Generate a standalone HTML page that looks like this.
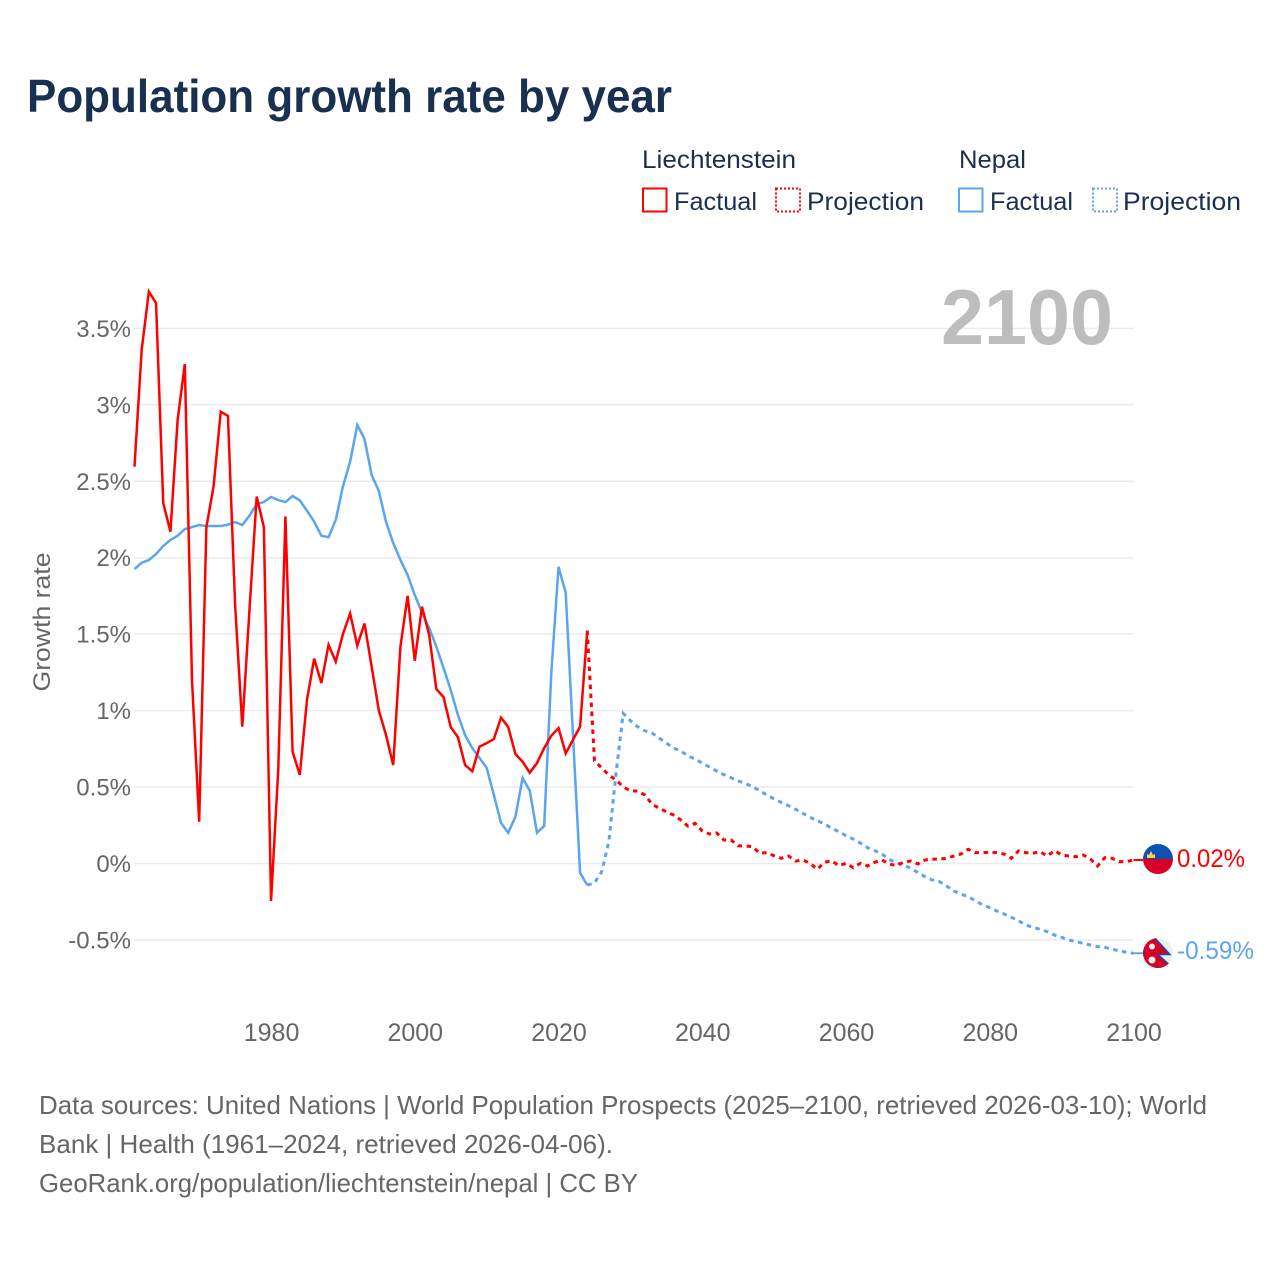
<!DOCTYPE html>
<html lang="en">
<head>
<meta charset="utf-8">
<title>Population growth rate by year</title>
<style>
  html,body{margin:0;padding:0;background:#fff;}
  svg{display:block;}
  text{font-family:"Liberation Sans",sans-serif;}
</style>
</head>
<body>
<svg id="chart" xmlns="http://www.w3.org/2000/svg" width="1280" height="1280" viewBox="0 0 1280 1280">
  <rect x="0" y="0" width="1280" height="1280" fill="#ffffff"/>
  <text x="27" y="112" font-size="46" font-weight="700" fill="#1a3050" textLength="645" lengthAdjust="spacingAndGlyphs">Population growth rate by year</text>

  <g font-size="25" fill="#1a3050">
    <text x="642" y="168" textLength="154" lengthAdjust="spacingAndGlyphs">Liechtenstein</text>
    <text x="959" y="168" textLength="67" lengthAdjust="spacingAndGlyphs">Nepal</text>
    <rect x="643" y="188.500" width="23.500" height="23" fill="none" stroke="#ff0000" stroke-width="2"/>
    <text x="674" y="210" textLength="83" lengthAdjust="spacingAndGlyphs">Factual</text>
    <rect x="776" y="188.500" width="24" height="23" fill="none" stroke="#ff0000" stroke-width="2" stroke-dasharray="2 2"/>
    <text x="807" y="210" textLength="117" lengthAdjust="spacingAndGlyphs">Projection</text>
    <rect x="959" y="188.500" width="23.500" height="23" fill="none" stroke="#5aa5ee" stroke-width="2"/>
    <text x="990" y="210" textLength="83" lengthAdjust="spacingAndGlyphs">Factual</text>
    <rect x="1093" y="188.500" width="24" height="23" fill="none" stroke="#5aa5ee" stroke-width="2" stroke-dasharray="2 2"/>
    <text x="1123" y="210" textLength="118" lengthAdjust="spacingAndGlyphs">Projection</text>
  </g>

  <g id="grid"></g>
  <g id="yticks"></g>
  <g id="xticks"></g>

  <text transform="translate(50,622) rotate(-90)" text-anchor="middle" font-size="24" fill="#666666" textLength="139" lengthAdjust="spacingAndGlyphs">Growth rate</text>
  <text x="941" y="344" font-size="78" font-weight="700" fill="#bdbdbd" textLength="172" lengthAdjust="spacingAndGlyphs">2100</text>

  <g id="series"></g>

  <g>
    <clipPath id="clip-li"><circle id="li-clip-circle" cx="1158" cy="859" r="15"/></clipPath>
    <g id="flag-li" clip-path="url(#clip-li)">
      <rect x="1143" y="844" width="30" height="15" fill="#0b52b4"/>
      <rect x="1143" y="859" width="30" height="15" fill="#d80027"/>
      <path d="M1147 858 v-4 l2 1 l2 -4 l2 4 l2 -1 v4 z" fill="#ffcf4a"/>
    </g>
  </g>
  <g>
    <clipPath id="clip-np"><circle cx="1158" cy="953" r="15"/></clipPath>
    <g clip-path="url(#clip-np)">
      <rect x="1143" y="938" width="30" height="30" fill="#eeeeee"/>
      <path d="M1143 937 H1154 L1170 954.500 H1158 L1173 968 H1143 Z" fill="#d80027" stroke="#0b52b4" stroke-width="1.500"/>
      <circle cx="1152" cy="946.500" r="3" fill="#eeeeee"/>
      <circle cx="1152" cy="960" r="3.500" fill="#eeeeee"/>
    </g>
  </g>

  <g id="end-labels" font-size="25"></g>

  <g font-size="26" fill="#666666">
    <text x="39" y="1114" textLength="1168" lengthAdjust="spacingAndGlyphs">Data sources: United Nations | World Population Prospects (2025–2100, retrieved 2026-03-10); World</text>
    <text x="39" y="1153" textLength="574" lengthAdjust="spacingAndGlyphs">Bank | Health (1961–2024, retrieved 2026-04-06).</text>
    <text x="39" y="1192" textLength="599" lengthAdjust="spacingAndGlyphs">GeoRank.org/population/liechtenstein/nepal | CC BY</text>
  </g>
</svg>
<script>
// ---- data ----
const factualStartYear = 1961;
const projectionStartYear = 2024;
const yTickValues = [-0.5, 0, 0.5, 1, 1.5, 2, 2.5, 3, 3.5];
const yTickLabels = ["-0.5%", "0%", "0.5%", "1%", "1.5%", "2%", "2.5%", "3%", "3.5%"];
const xTickYears = [1980, 2000, 2020, 2040, 2060, 2080, 2100];
const liechtensteinFactual = [
  2.595,3.36,3.74,3.665,2.357,2.17,2.9,3.267,1.2,0.273,
  2.2,2.465,2.955,2.927,1.69,0.895,1.66,2.4,2.2,-0.245,
  0.61,2.27,0.73,0.58,1.07,1.34,1.18,1.43,1.32,1.5,
  1.635,1.425,1.57,1.287,1.0,0.84,0.644,1.418,1.75,1.326,
  1.68,1.494,1.141,1.088,0.892,0.826,0.644,0.603,0.764,0.787,
  0.814,0.954,0.892,0.716,0.666,0.594,0.657,0.755,0.836,0.886,
  0.72,0.808,0.895,1.523];
const nepalFactual = [
  1.926,1.967,1.985,2.024,2.076,2.116,2.144,2.187,2.2,2.214,
  2.207,2.207,2.207,2.216,2.233,2.214,2.275,2.351,2.364,2.397,
  2.377,2.364,2.403,2.375,2.307,2.236,2.144,2.134,2.247,2.465,
  2.628,2.868,2.777,2.54,2.436,2.233,2.096,1.985,1.887,1.756,
  1.64,1.54,1.418,1.279,1.135,0.971,0.84,0.755,0.69,0.625,
  0.448,0.265,0.201,0.306,0.559,0.476,0.201,0.245,1.25,1.94,
  1.77,0.85,-0.062,-0.141];
const liechtensteinProjection = [
  1.523,0.672,0.625,0.579,0.546,0.502,0.474,0.474,0.448,0.389,
  0.361,0.339,0.317,0.285,0.245,0.263,0.213,0.193,0.2,0.154,
  0.154,0.116,0.114,0.11,0.067,0.071,0.051,0.034,0.049,0.016,
  0.023,0.001,-0.038,0.008,0.018,-0.014,0.001,-0.027,0.001,-0.016,
  0.008,0.023,-0.003,-0.014,0.008,0.016,-0.003,0.023,0.029,0.029,
  0.034,0.049,0.062,0.093,0.071,0.071,0.073,0.071,0.062,0.034,
  0.082,0.071,0.067,0.077,0.049,0.084,0.056,0.049,0.044,0.056,
  0.029,-0.016,0.038,0.034,0.012,0.012,0.023];
const nepalProjection = [
  -0.141,-0.128,-0.054,0.143,0.59,0.982,0.934,0.895,0.868,0.853,
  0.82,0.788,0.755,0.736,0.705,0.683,0.657,0.631,0.605,0.581,
  0.561,0.54,0.524,0.502,0.476,0.448,0.422,0.4,0.378,0.354,
  0.328,0.302,0.28,0.258,0.232,0.208,0.182,0.16,0.134,0.103,
  0.084,0.062,0.027,0.005,-0.01,-0.031,-0.06,-0.086,-0.108,-0.119,
  -0.147,-0.18,-0.2,-0.217,-0.243,-0.271,-0.289,-0.311,-0.33,-0.352,
  -0.374,-0.402,-0.417,-0.43,-0.446,-0.468,-0.483,-0.5,-0.511,-0.522,
  -0.533,-0.544,-0.548,-0.561,-0.57,-0.581,-0.587];
const endValueLabels = ["0.02%", "-0.59%"];

// ---- axis functions ----
const SVG_NS = "http://www.w3.org/2000/svg";
const PLOT_LEFT = 134.5, PLOT_RIGHT = 1133.5, AXIS_START = 1961, AXIS_END = 2100;
const Y_ZERO = 863.5, Y_PER_UNIT = 152.9;
function xScale(year) { return PLOT_LEFT + (year - AXIS_START) * (PLOT_RIGHT - PLOT_LEFT) / (AXIS_END - AXIS_START); }
function yScale(value) { return Y_ZERO - value * Y_PER_UNIT; }
function pathFor(values, startYear) {
  return values.map(function (v, i) {
    return (i ? "L" : "M") + xScale(startYear + i).toFixed(2) + " " + yScale(v).toFixed(2);
  }).join(" ");
}

const gridGroup = document.getElementById("grid");
const yTickGroup = document.getElementById("yticks");
yTickValues.forEach(function (v, i) {
  const line = document.createElementNS(SVG_NS, "line");
  
  
  line.setAttribute("x1", PLOT_LEFT - 0.5);
  line.setAttribute("x2", PLOT_RIGHT);
  line.setAttribute("y1", yScale(v));
  line.setAttribute("y2", yScale(v));
  line.setAttribute("stroke", "#ebebeb");
  line.setAttribute("stroke-width", "1.5");
  gridGroup.appendChild(line);
  const label = document.createElementNS(SVG_NS, "text");
  
  
  label.setAttribute("x", 131);
  label.setAttribute("y", yScale(v) + 8.5);
  label.setAttribute("text-anchor", "end");
  label.setAttribute("font-size", "24");
  label.setAttribute("fill", "#666666");
  label.textContent = yTickLabels[i];
  yTickGroup.appendChild(label);
});

const xTickGroup = document.getElementById("xticks");
xTickYears.forEach(function (year) {
  const label = document.createElementNS(SVG_NS, "text");
  
  
  label.setAttribute("x", xScale(year) + 0.5);
  label.setAttribute("y", 1041);
  label.setAttribute("text-anchor", "middle");
  label.setAttribute("font-size", "25");
  label.setAttribute("fill", "#666666");
  label.textContent = String(year);
  xTickGroup.appendChild(label);
});

const seriesGroup = document.getElementById("series");
function addLine(name, values, startYear, color, dash) {
  const path = document.createElementNS(SVG_NS, "path");
  
  
  path.setAttribute("d", pathFor(values, startYear));
  path.setAttribute("fill", "none");
  path.setAttribute("stroke", color);
  path.setAttribute("stroke-width", dash ? "3" : "2.5");
  path.setAttribute("stroke-linejoin", "miter");
  if (dash) path.setAttribute("stroke-dasharray", dash);
  seriesGroup.appendChild(path);
}
const RED = "#ff0000", BLUE = "#5aa5ee";
addLine("line-nepal-projection", nepalProjection, projectionStartYear, BLUE, "4.500 4.500");
addLine("line-liechtenstein-projection", liechtensteinProjection, projectionStartYear, RED, "4.500 4.500");
addLine("line-nepal-factual", nepalFactual, factualStartYear, BLUE, null);
addLine("line-liechtenstein-factual", liechtensteinFactual, factualStartYear, RED, null);

function addConnector(name, value, color) {
  const c = document.createElementNS(SVG_NS, "line");
  
  
  c.setAttribute("x1", xScale(AXIS_END));
  c.setAttribute("x2", 1143);
  c.setAttribute("y1", yScale(value));
  c.setAttribute("y2", yScale(value));
  c.setAttribute("stroke", color);
  c.setAttribute("stroke-width", "2");
  seriesGroup.appendChild(c);
}
addConnector("connector-liechtenstein", liechtensteinProjection[liechtensteinProjection.length - 1], RED);
addConnector("connector-nepal", nepalProjection[nepalProjection.length - 1], BLUE);

const endGroup = document.getElementById("end-labels");
const liEnd = document.createElementNS(SVG_NS, "text");


liEnd.setAttribute("x", 1177);
liEnd.setAttribute("y", 867);
liEnd.setAttribute("fill", RED);
liEnd.setAttribute("textLength", "68");
liEnd.setAttribute("lengthAdjust", "spacingAndGlyphs");
liEnd.textContent = endValueLabels[0];
endGroup.appendChild(liEnd);
const npEnd = document.createElementNS(SVG_NS, "text");


npEnd.setAttribute("x", 1177);
npEnd.setAttribute("y", 959);
npEnd.setAttribute("fill", BLUE);
npEnd.setAttribute("textLength", "77");
npEnd.setAttribute("lengthAdjust", "spacingAndGlyphs");
npEnd.textContent = endValueLabels[1];
endGroup.appendChild(npEnd);
</script>
</body>
</html>
